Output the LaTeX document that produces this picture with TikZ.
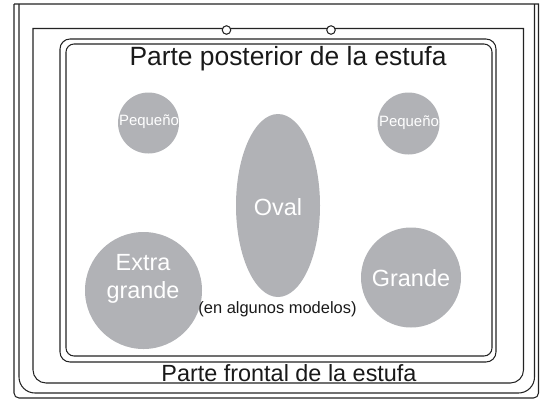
\documentclass[tikz,border=0pt]{standalone}
\usepackage{fontspec}
\setmainfont{Liberation Sans}
\usetikzlibrary{shapes.geometric}
\definecolor{burnergray}{RGB}{177,178,182}
\definecolor{linegray}{RGB}{35,35,35}
\begin{document}
\begin{tikzpicture}[x=1bp,y=-1bp,
  frame/.style={draw=linegray, line width=1.05bp},
  burner/.style={circle, fill=burnergray, draw=none, inner sep=0pt},
  btext/.style={text=white, inner sep=0pt, align=center},
  ltext/.style={text=black!90, inner sep=0pt, anchor=base},
  hole/.style={circle, draw=linegray, fill=white, line width=1.05bp, minimum size=8.5bp, inner sep=0pt}]
\useasboundingbox (0,0) rectangle (540,400);
% outer body
\draw[frame] (14,4) -- (538.5,4) -- (538.5,300) [rounded corners=5bp] -- (538.5,398) -- (14,398) -- (14,300) [sharp corners] -- (14,4);
\draw[frame] (19,4) -- (19,300) [rounded corners=16bp] -- (19,393) -- (534.5,393) -- (534.5,300) [sharp corners] -- (534.5,4);
% cooktop
\draw[frame] (33,28.5) -- (523.5,28.5) -- (523.5,300) [rounded corners=13bp] -- (523.5,383) -- (33,383) -- (33,300) [sharp corners] -- cycle;
\draw[frame, rounded corners=10bp] (60,39) rectangle (496,362);
\draw[frame, rounded corners=8bp] (66,44) rectangle (492,356);
\node[hole] (h1) at (226.5,30) {};
\node[hole] (h2) at (331,30) {};
% labels
\node[ltext, font=\fontsize{26.5}{31}\selectfont] (back) at (288,65) {Parte posterior de la estufa};
\node[ltext, font=\fontsize{23.5}{28}\selectfont] (front) at (289,381) {Parte frontal de la estufa};
% burners
\node[burner, minimum size=61bp] (pl) at (148.5,123) {};
\node[burner, minimum size=62bp] (pr) at (408.5,123.5) {};
\node[ellipse, fill=burnergray, draw=none, inner sep=0pt, minimum width=84bp, minimum height=183bp] (ov) at (278,205.5) {};
\node[burner, minimum size=117bp] (xg) at (143.5,290.5) {};
\node[burner, minimum size=100bp] (gr) at (411,277.5) {};
\node[btext, anchor=base, font=\fontsize{15}{18}\selectfont] (plt) at (149,125) {Pequeño};
\node[btext, anchor=base, font=\fontsize{15}{18}\selectfont] (prt) at (409,126) {Pequeño};
\node[btext, anchor=base, font=\fontsize{23.5}{28}\selectfont] (ovt) at (278,215) {Oval};
\node[btext, font=\fontsize{23.5}{28}\selectfont] (xgt) at (143,279.2) {Extra\\grande};
\node[btext, anchor=base, font=\fontsize{23.5}{28}\selectfont] (grt) at (411,286) {Grande};
\node[ltext, font=\fontsize{16.5}{19}\selectfont] (note) at (277.5,313) {(en algunos modelos)};
\end{tikzpicture}
\end{document}
